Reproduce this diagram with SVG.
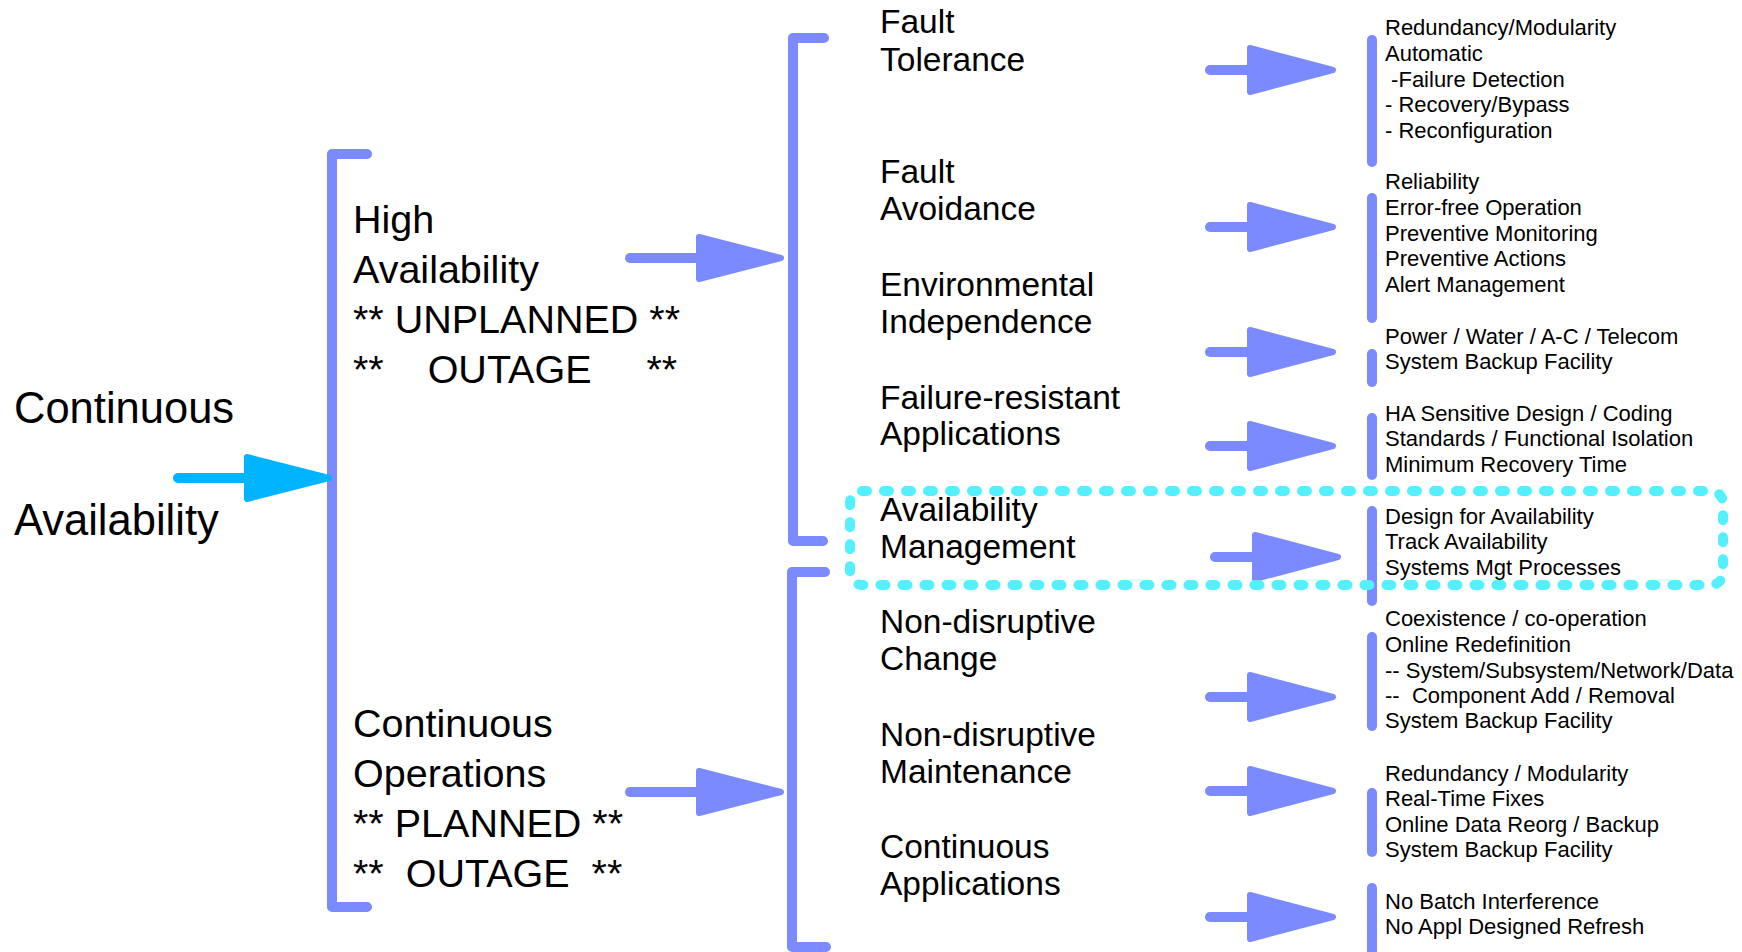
<svg xmlns="http://www.w3.org/2000/svg" xmlns:xlink="http://www.w3.org/1999/xlink" width="1742" height="952" viewBox="0 0 1742 952">
<style>
  text { font-family: "Liberation Sans", Arial, sans-serif; fill: #000; white-space: pre; }
  .root { font-size: 43.5px; }
  .lvl1 { font-size: 39.5px; }
  .lvl2 { font-size: 33.5px; }
  .lvl3 { font-size: 22px; }
  .brk { fill: none; stroke: #7B8AFF; stroke-width: 10; stroke-linecap: round; stroke-linejoin: round; }
  .bar { fill: none; stroke: #7B8AFF; stroke-width: 10; stroke-linecap: round; }
  .arr { fill: #7B8AFF; stroke: #7B8AFF; }
  .arrc { fill: #00B4FF; stroke: #00B4FF; }
  .hl { fill: none; stroke: #55F0FF; stroke-width: 10; stroke-linecap: round; stroke-dasharray: 5 17; }
</style>
<defs>
  <g id="bigArrow">
    <line x1="0" y1="0" x2="75" y2="0" stroke-width="10" stroke-linecap="round"/>
    <polygon points="69,-21 151,0 69,21" stroke-width="6" stroke-linejoin="round"/>
  </g>
  <g id="smallArrow">
    <line x1="0" y1="0" x2="45" y2="0" stroke-width="10" stroke-linecap="round"/>
    <polygon points="40,-22 123,0 40,22" stroke-width="6" stroke-linejoin="round"/>
  </g>
</defs>
<rect width="1742" height="952" fill="#fff"/>

<g id="connectors">
  <!-- brackets -->
  <path class="brk" d="M367,154 H332 V907 H367"/>
  <path class="brk" d="M824,38 H793 V541 H823"/>
  <path class="brk" d="M825,572 H792 V947 H826"/>
  <!-- arrows -->
  <use xlink:href="#bigArrow" class="arrc" transform="translate(178,478)"/>
  <use xlink:href="#bigArrow" class="arr" transform="translate(630,258)"/>
  <use xlink:href="#bigArrow" class="arr" transform="translate(630,792)"/>
  <use xlink:href="#smallArrow" class="arr" transform="translate(1210,70)"/>
  <use xlink:href="#smallArrow" class="arr" transform="translate(1210,227)"/>
  <use xlink:href="#smallArrow" class="arr" transform="translate(1210,352)"/>
  <use xlink:href="#smallArrow" class="arr" transform="translate(1210,446)"/>
  <use xlink:href="#smallArrow" class="arr" transform="translate(1215,557)"/>
  <use xlink:href="#smallArrow" class="arr" transform="translate(1210,697)"/>
  <use xlink:href="#smallArrow" class="arr" transform="translate(1210,791)"/>
  <use xlink:href="#smallArrow" class="arr" transform="translate(1210,917)"/>
  <!-- detail bars -->
  <line class="bar" x1="1372" y1="40" x2="1372" y2="162"/>
  <line class="bar" x1="1372" y1="198" x2="1372" y2="318"/>
  <line class="bar" x1="1372" y1="354" x2="1372" y2="382"/>
  <line class="bar" x1="1372" y1="418" x2="1372" y2="475"/>
  <line class="bar" x1="1372" y1="511" x2="1372" y2="601"/>
  <line class="bar" x1="1372" y1="637" x2="1372" y2="726"/>
  <line class="bar" x1="1372" y1="793" x2="1372" y2="852"/>
  <line class="bar" x1="1372" y1="888" x2="1372" y2="960"/>
</g>

<g id="highlight-availability-management">
  <rect class="hl" x="850" y="491" width="873" height="94" rx="12"/>
</g>

<g id="continuous-availability">
  <text class="root" x="14" y="423">Continuous</text>
  <text class="root" x="14" y="535">Availability</text>
</g>

<g id="high-availability">
  <text class="lvl1" x="353" y="233">High</text>
  <text class="lvl1" x="353" y="283">Availability</text>
  <text class="lvl1" x="353" y="333">** UNPLANNED **</text>
  <text class="lvl1" x="353" y="383">**    OUTAGE     **</text>
</g>

<g id="continuous-operations">
  <text class="lvl1" x="353" y="737">Continuous</text>
  <text class="lvl1" x="353" y="787">Operations</text>
  <text class="lvl1" x="353" y="837">** PLANNED **</text>
  <text class="lvl1" x="353" y="887">**  OUTAGE  **</text>
</g>

<g id="fault-tolerance">
  <text class="lvl2" x="880" y="33">Fault</text>
  <text class="lvl2" x="880" y="71">Tolerance</text>
</g>
<g id="fault-avoidance">
  <text class="lvl2" x="880" y="183">Fault</text>
  <text class="lvl2" x="880" y="220">Avoidance</text>
</g>
<g id="environmental-independence">
  <text class="lvl2" x="880" y="296">Environmental</text>
  <text class="lvl2" x="880" y="333">Independence</text>
</g>
<g id="failure-resistant-applications">
  <text class="lvl2" x="880" y="409">Failure-resistant</text>
  <text class="lvl2" x="880" y="445">Applications</text>
</g>
<g id="availability-management">
  <text class="lvl2" x="880" y="521">Availability</text>
  <text class="lvl2" x="880" y="558">Management</text>
</g>
<g id="non-disruptive-change">
  <text class="lvl2" x="880" y="633">Non-disruptive</text>
  <text class="lvl2" x="880" y="670">Change</text>
</g>
<g id="non-disruptive-maintenance">
  <text class="lvl2" x="880" y="746">Non-disruptive</text>
  <text class="lvl2" x="880" y="783">Maintenance</text>
</g>
<g id="continuous-applications">
  <text class="lvl2" x="880" y="858">Continuous</text>
  <text class="lvl2" x="880" y="895">Applications</text>
</g>

<g id="details-fault-tolerance">
  <text class="lvl3" x="1385" y="35">Redundancy/Modularity</text>
  <text class="lvl3" x="1385" y="61">Automatic</text>
  <text class="lvl3" x="1385" y="87"> -Failure Detection</text>
  <text class="lvl3" x="1385" y="112">- Recovery/Bypass</text>
  <text class="lvl3" x="1385" y="138">- Reconfiguration</text>
</g>
<g id="details-fault-avoidance">
  <text class="lvl3" x="1385" y="189">Reliability</text>
  <text class="lvl3" x="1385" y="215">Error-free Operation</text>
  <text class="lvl3" x="1385" y="241">Preventive Monitoring</text>
  <text class="lvl3" x="1385" y="266">Preventive Actions</text>
  <text class="lvl3" x="1385" y="292">Alert Management</text>
</g>
<g id="details-environmental">
  <text class="lvl3" x="1385" y="344">Power / Water / A-C / Telecom</text>
  <text class="lvl3" x="1385" y="369">System Backup Facility</text>
</g>
<g id="details-failure-resistant">
  <text class="lvl3" x="1385" y="421">HA Sensitive Design / Coding</text>
  <text class="lvl3" x="1385" y="446">Standards / Functional Isolation</text>
  <text class="lvl3" x="1385" y="472">Minimum Recovery Time</text>
</g>
<g id="details-availability-management">
  <text class="lvl3" x="1385" y="524">Design for Availability</text>
  <text class="lvl3" x="1385" y="549">Track Availability</text>
  <text class="lvl3" x="1385" y="575">Systems Mgt Processes</text>
</g>
<g id="details-change">
  <text class="lvl3" x="1385" y="626">Coexistence / co-operation</text>
  <text class="lvl3" x="1385" y="652">Online Redefinition</text>
  <text class="lvl3" x="1385" y="678">-- System/Subsystem/Network/Data</text>
  <text class="lvl3" x="1385" y="703">--  Component Add / Removal</text>
  <text class="lvl3" x="1385" y="728">System Backup Facility</text>
</g>
<g id="details-maintenance">
  <text class="lvl3" x="1385" y="781">Redundancy / Modularity</text>
  <text class="lvl3" x="1385" y="806">Real-Time Fixes</text>
  <text class="lvl3" x="1385" y="832">Online Data Reorg / Backup</text>
  <text class="lvl3" x="1385" y="857">System Backup Facility</text>
</g>
<g id="details-continuous-applications">
  <text class="lvl3" x="1385" y="909">No Batch Interference</text>
  <text class="lvl3" x="1385" y="934">No Appl Designed Refresh</text>
</g>
</svg>
